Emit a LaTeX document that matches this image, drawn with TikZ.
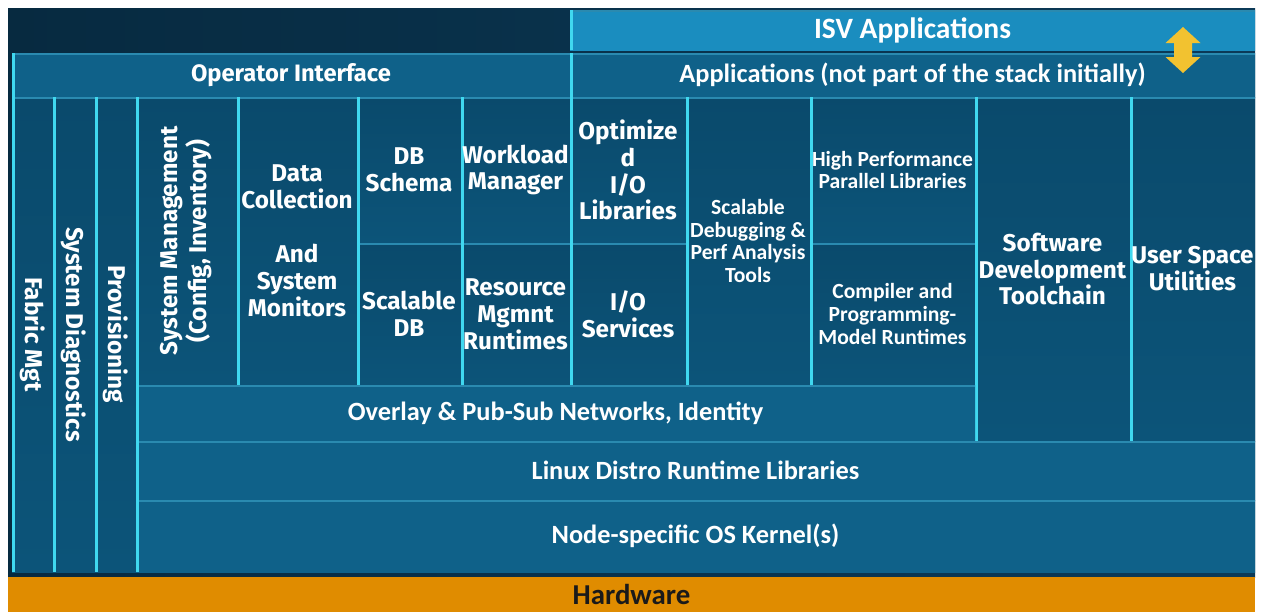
\documentclass[tikz,border=0pt]{standalone}
\usepackage{fontspec}
\setmainfont{Fira Sans}
\newfontfamily\condfont{Carlito}
\usepackage{graphicx}
\usetikzlibrary{positioning}

\definecolor{bgdark}{HTML}{072A40}
\definecolor{bgblue}{HTML}{0B3A58}
\definecolor{cellblue}{HTML}{0C5479}
\definecolor{celltop}{HTML}{0A4A6C}
\definecolor{barblue}{HTML}{0F6189}
\definecolor{isvblue}{HTML}{1A8DBF}
\definecolor{edgecyan}{HTML}{40D8F0}
\definecolor{edgetop}{HTML}{2A8AB0}
\definecolor{hwfill}{HTML}{E08C00}
\definecolor{hwtext}{HTML}{1A1A1A}
\definecolor{arrowyellow}{HTML}{F2C230}

\newcommand\cellfont{\fontsize{13.8}{15.3}\selectfont\bfseries}
\newcommand\narrowfont{\condfont\fontsize{12.3}{13}\selectfont\bfseries}
\newcommand\barfont{\condfont\fontsize{15}{17}\selectfont\bfseries}

\tikzset{
  cell/.style={top color=celltop, bottom color=cellblue, text=white, inner sep=0pt, outer sep=0pt,
    align=center, anchor=north west, font=\cellfont,
    path picture={
      \draw[edgetop, line width=2.6pt] (path picture bounding box.north west) -- (path picture bounding box.north east);
      \draw[edgecyan, line width=3pt] (path picture bounding box.south west) -- (path picture bounding box.north west);
    }},
  bar/.style={cell, top color=barblue, bottom color=barblue, font=\barfont},
  isvbar/.style={bar, top color=isvblue, bottom color=isvblue, font=\barfont\fontsize{16.8}{18}\selectfont},
  hwbar/.style={fill=hwfill, text=hwtext, inner sep=0pt, outer sep=0pt, anchor=north west,
    font=\condfont\fontsize{16.4}{18}\selectfont\bfseries},
}

\begin{document}
\begin{tikzpicture}
    \useasboundingbox[fill=white] (0,0) rectangle (25.22,-12.26);
    %%% FONDO %%%
    \shade[left color=bgdark, right color=bgblue] (0.16,-0.16) rectangle (25.1,-11.54);

    %%% BARRAS SUPERIORES %%%
    \node[isvbar, minimum width=13.7cm, minimum height=0.8cm] (isv) at (11.4,-0.2) {ISV Applications};
    \node[bar, font=\cellfont\fontsize{13.5}{15}\selectfont, minimum width=11.16cm, minimum height=0.88cm] (opif) at (0.24,-1.06) {Operator Interface};
    \node[bar, minimum width=13.7cm, minimum height=0.88cm] (apps) at (11.4,-1.06) {Applications (not part of the stack initially)};

    % flecha doble amarilla
    \coordinate (arrowtip) at (23.66,-0.54);
    \fill[arrowyellow] (arrowtip) -- ++(0.35,-0.32) -- ++(-0.17,0) -- ++(0,-0.28) -- ++(0.17,0)
        -- ++(-0.35,-0.32) -- ++(-0.35,0.32) -- ++(0.17,0) -- ++(0,0.28) -- ++(-0.17,0) -- cycle;

    %%% COLUMNAS VERTICALES %%%
    \node[cell, minimum width=0.82cm, minimum height=9.5cm] (fabric) at (0.24,-1.94) {\rotatebox{-90}{Fabric Mgt}};
    \node[cell, minimum width=0.84cm, minimum height=9.5cm] (sysdiag) [right=0pt of fabric] {\rotatebox{-90}{System Diagnostics}};
    \node[cell, minimum width=0.82cm, minimum height=9.5cm] (prov) [right=0pt of sysdiag] {\rotatebox{-90}{Provisioning}};

    % Bloques de gestion
    \node[cell, minimum width=2.02cm, minimum height=5.76cm] (sysmgmt) [right=0pt of prov.north east, anchor=north west]
        {\rotatebox{90}{\begin{tabular}{@{}c@{}}System Management\\(Config, Inventory)\end{tabular}}};
    \node[cell, minimum width=2.4cm, minimum height=5.76cm] (datacol) [right=0pt of sysmgmt]
        {Data\\Collection\\[15.3pt]And\\System\\Monitors};
    \node[cell, minimum width=2.08cm, minimum height=2.92cm] (dbschema) [right=0pt of datacol.north east, anchor=north west] {DB\\Schema};
    \node[cell, minimum width=2.08cm, minimum height=2.84cm] (scaldb) [below=0pt of dbschema] {Scalable\\DB};
    \node[cell, minimum width=2.18cm, minimum height=2.92cm] (workload) [right=0pt of dbschema] {Workload\\Manager};
    \node[cell, minimum width=2.18cm, minimum height=2.84cm] (resmgmt) [below=0pt of workload] {Resource\\Mgmnt\\Runtimes};

    % Bloques de aplicaciones
    \node[cell, minimum width=2.32cm, minimum height=2.92cm] (optio) [right=0pt of workload] {Optimize\\d\\I/O\\Libraries};
    \node[cell, minimum width=2.32cm, minimum height=2.84cm] (ioserv) [below=0pt of optio] {I/O\\Services};
    \node[cell, font=\narrowfont, minimum width=2.48cm, minimum height=5.76cm] (debug) [right=0pt of optio.north east, anchor=north west]
        {Scalable\\Debugging \&\\Perf Analysis\\Tools};
    \node[cell, font=\narrowfont, minimum width=3.3cm, minimum height=2.92cm] (hpc) [right=0pt of debug.north east, anchor=north west]
        {High Performance\\Parallel Libraries};
    \node[cell, font=\narrowfont, minimum width=3.3cm, minimum height=2.84cm] (compiler) [below=0pt of hpc]
        {Compiler and\\Programming-\\Model Runtimes};
    \node[cell, minimum width=3.1cm, minimum height=6.88cm] (sdt) [right=0pt of hpc.north east, anchor=north west]
        {Software\\Development\\Toolchain};
    \node[cell, minimum width=2.5cm, minimum height=6.88cm] (usu) [right=0pt of sdt] {User Space\\Utilities};

    %%% CAPAS HORIZONTALES %%%
    \node[bar, minimum width=16.78cm, minimum height=1.12cm] (overlay) [below=0pt of sysmgmt.south west, anchor=north west]
        {Overlay \& Pub-Sub Networks, Identity};
    \node[bar, minimum width=22.38cm, minimum height=1.18cm] (linux) [below=0pt of overlay.south west, anchor=north west]
        {Linux Distro Runtime Libraries};
    \node[bar, minimum width=22.38cm, minimum height=1.44cm] (kernel) [below=0pt of linux] {Node-specific OS Kernel(s)};

    % Hardware
    \node[hwbar, minimum width=24.94cm, minimum height=0.7cm] (hw) at (0.16,-11.54) {Hardware};
\end{tikzpicture}
\end{document}
